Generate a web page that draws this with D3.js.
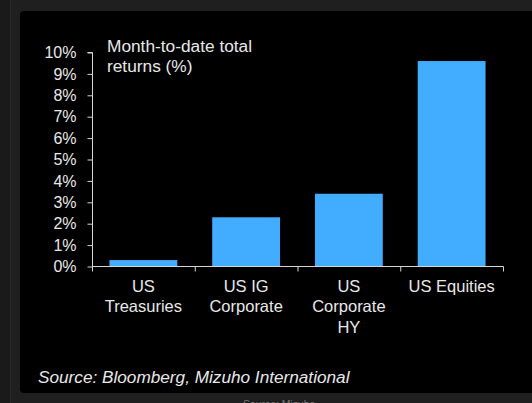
<!DOCTYPE html>
<html>
<head>
<meta charset="utf-8">
<script src="https://cdn.jsdelivr.net/npm/d3@7"></script>
<style>
  html, body { margin: 0; padding: 0; background: #1f1f1f; }
  svg { display: block; font-family: "Liberation Sans", Arial, sans-serif; }
</style>
</head>
<body>
<svg id="chart" width="532" height="403"></svg>
<script>
'use strict';
// chart data
const categories = [["US", "Treasuries"], ["US IG", "Corporate"], ["US", "Corporate", "HY"], ["US Equities"]];
const returns = [0.3, 2.3, 3.4, 9.6];
const yTicks = [0, 1, 2, 3, 4, 5, 6, 7, 8, 9, 10];
const titleLines = ["Month-to-date total", "returns (%)"];
const sourceText = "Source: Bloomberg, Mizuho International";

const svg = d3.select("#chart");

// page frame
svg.append("rect").attr("x", 0).attr("y", 0).attr("width", 11).attr("height", 403).attr("fill", "#1a1a1a");
svg.append("line").attr("x1", 10.5).attr("x2", 10.5).attr("y1", 0).attr("y2", 403).attr("stroke", "#2a2a2a");
svg.append("rect")
	.attr("x", 20).attr("y", 11)
	.attr("width", 530).attr("height", 382)
	.attr("rx", 4)
	.attr("fill", "#000");

const x = d3.scaleBand()
	.domain(d3.range(categories.length))
	.range([92, 503])
	.paddingInner(0.34)
	.paddingOuter(0.17);

const y = d3.scaleLinear()
	.domain([0, 10])
	.range([266.5, 52.5]);

const textColor = "#e8e8e8";
const axisColor = "#d6d6d6";

// bars
svg.append("g")
	.selectAll("rect")
	.data(returns)
	.join("rect")
	.attr("x", (d, i) => x(i))
	.attr("y", d => y(d))
	.attr("width", x.bandwidth())
	.attr("height", d => y(0) - y(d))
	.attr("fill", "#42adff");

// y axis
const yAxis = svg.append("g")
	.attr("transform", "translate(92.5,0)")
	.call(d3.axisLeft(y).tickValues(yTicks).tickSize(5).tickPadding(11).tickFormat(d => d + "%"));
yAxis.selectAll("path, line").attr("stroke", axisColor);
yAxis.selectAll("text")
	.attr("fill", textColor)
	.attr("font-size", 16)
	.attr("font-family", "Liberation Sans, Arial, sans-serif");
yAxis.select(".domain").attr("d", "M-5," + y(10) + "H0V" + y(0));

// x axis with ticks between bars
const step = x.step();
const edges = d3.range(categories.length + 1).map(i => 92 + i * step);
svg.append("line")
	.attr("x1", 92).attr("x2", 503.5)
	.attr("y1", y(0)).attr("y2", y(0))
	.attr("stroke", axisColor);
svg.append("g")
	.selectAll("line")
	.data(edges)
	.join("line")
	.attr("x1", d => d + 0.5).attr("x2", d => d + 0.5)
	.attr("y1", y(0)).attr("y2", y(0) + 5)
	.attr("stroke", axisColor);

// category labels
svg.append("g")
	.selectAll("text")
	.data(categories)
	.join("text")
	.attr("x", (d, i) => x(i) + x.bandwidth() / 2)
	.attr("y", 292)
	.attr("text-anchor", "middle")
	.attr("fill", textColor)
	.attr("font-size", 16.5)
	.selectAll("tspan")
	.data(d => d)
	.join("tspan")
	.attr("x", function() { return this.parentNode.getAttribute("x"); })
	.attr("dy", (d, i) => i == 0 ? 0 : 20.3)
	.text(d => d);

// title inside plot
svg.append("text")
	.attr("x", 107)
	.attr("y", 52)
	.attr("fill", textColor)
	.attr("font-size", 17.3)
	.selectAll("tspan")
	.data(titleLines)
	.join("tspan")
	.attr("x", 107)
	.attr("dy", (d, i) => i == 0 ? 0 : 19.5)
	.text(d => d);

// source
svg.append("text")
	.attr("x", 38)
	.attr("y", 383)
	.attr("fill", textColor)
	.attr("font-size", 17.2)
	.attr("font-style", "italic")
	.text(sourceText);

// cut-off caption below the panel
svg.append("text")
	.attr("x", 243)
	.attr("y", 407.5)
	.attr("fill", "#7a7a7a")
	.attr("font-size", 10.4)
	.text("Source: Mizuho");
</script>
</body>
</html>
